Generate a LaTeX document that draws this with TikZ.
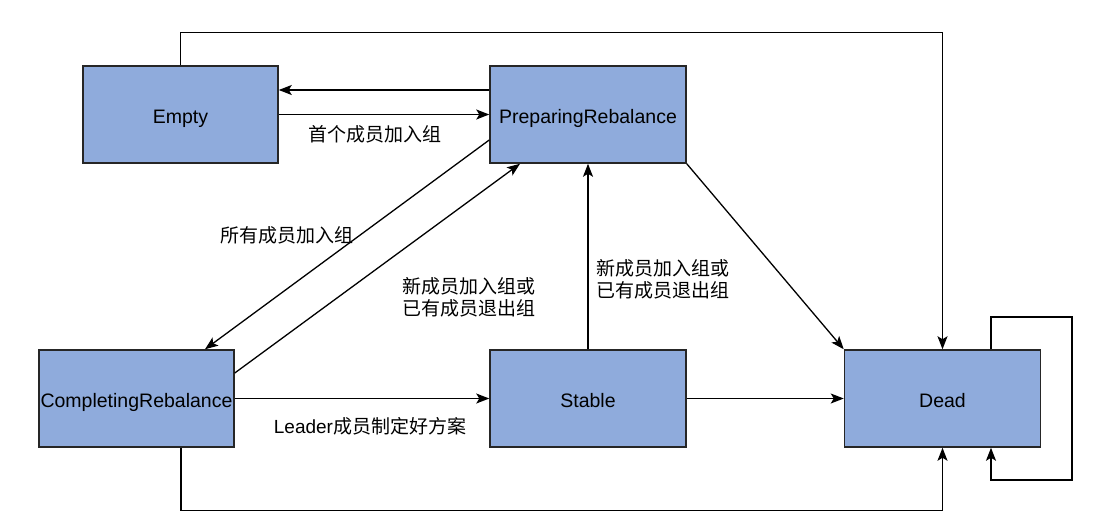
\documentclass[tikz,border=0pt]{standalone}
\usepackage{fontspec}
\setmainfont{Liberation Sans}
\newfontfamily\cjk{Noto Sans CJK SC}
\usetikzlibrary{arrows.meta}
\definecolor{boxfill}{HTML}{8FABDC}
\definecolor{boxline}{HTML}{262626}
\tikzset{
  state/.style={draw=boxline, line width=1.5pt, fill=boxfill, minimum width=195pt, minimum height=97pt, inner sep=0pt, text height=17pt, text depth=0pt, font=\fontsize{19.5}{22}\selectfont},
  conn/.style={draw=black, line width=1.3pt, -{Stealth[length=13pt,width=10pt,inset=3pt]}},
  lbl/.style={font=\fontsize{19}{22}\selectfont\cjk, align=left, inner sep=0pt}
}
\begin{document}
\begin{tikzpicture}[x=1pt,y=-1pt]
\useasboundingbox[fill=white] (0,0) rectangle (1096,528);
\node[state] (E) at (180.5,114.5) {Empty};
\node[state, minimum width=196pt] (P) at (588,114.5) {PreparingRebalance};
\node[state] (C) at (136.5,398.5) {CompletingRebalance};
\node[state, minimum width=196pt] (S) at (588,398.5) {Stable};
\node[state, minimum width=196pt] (D) at (942.5,398.5) {Dead};
\coordinate (L1) at (1072,317);
\coordinate (L2) at (1072,480);
% top route
\draw[conn] (E.north) -- ++(0,-33) -| (D.north);
% P <-> E
\draw[conn] ([yshift=24.5pt]P.west) -- ([yshift=24.5pt]E.east);
\draw[conn] (E.east) -- (P.west);
\node[lbl] (l1) at (375,134) {首个成员加入组};
% diagonals
\draw[conn] ([yshift=-25.5pt]P.west) -- ([xshift=68.5pt]C.north);
\draw[conn] ([yshift=25.5pt]C.east) -- ([xshift=-68pt]P.south);
\node[lbl] (l2) at (287,235) {所有成员加入组};
\node[lbl] (l3) at (469,297) {新成员加入组或\\已有成员退出组};
% Stable -> P
\draw[conn] (S.north) -- (P.south);
\node[lbl] (l4) at (663,279) {新成员加入组或\\已有成员退出组};
% P -> Dead
\draw[conn] (P.south east) -- (D.north west);
% C -> S, S -> D
\draw[conn] (C.east) -- (S.west);
\node[lbl] (l5) at (370,426) {\setmainfont{Liberation Sans}Leader\cjk 成员制定好方案};
\draw[conn] (S.east) -- (D.west);
% bottom route
\draw[conn] ([xshift=44.5pt]C.south) -- ++(0,63) -| (D.south);
% self loop
\draw[conn] ([xshift=48.5pt]D.north) |- (L1) -- (L2) -| ([xshift=48.5pt]D.south);
\end{tikzpicture}
\end{document}
